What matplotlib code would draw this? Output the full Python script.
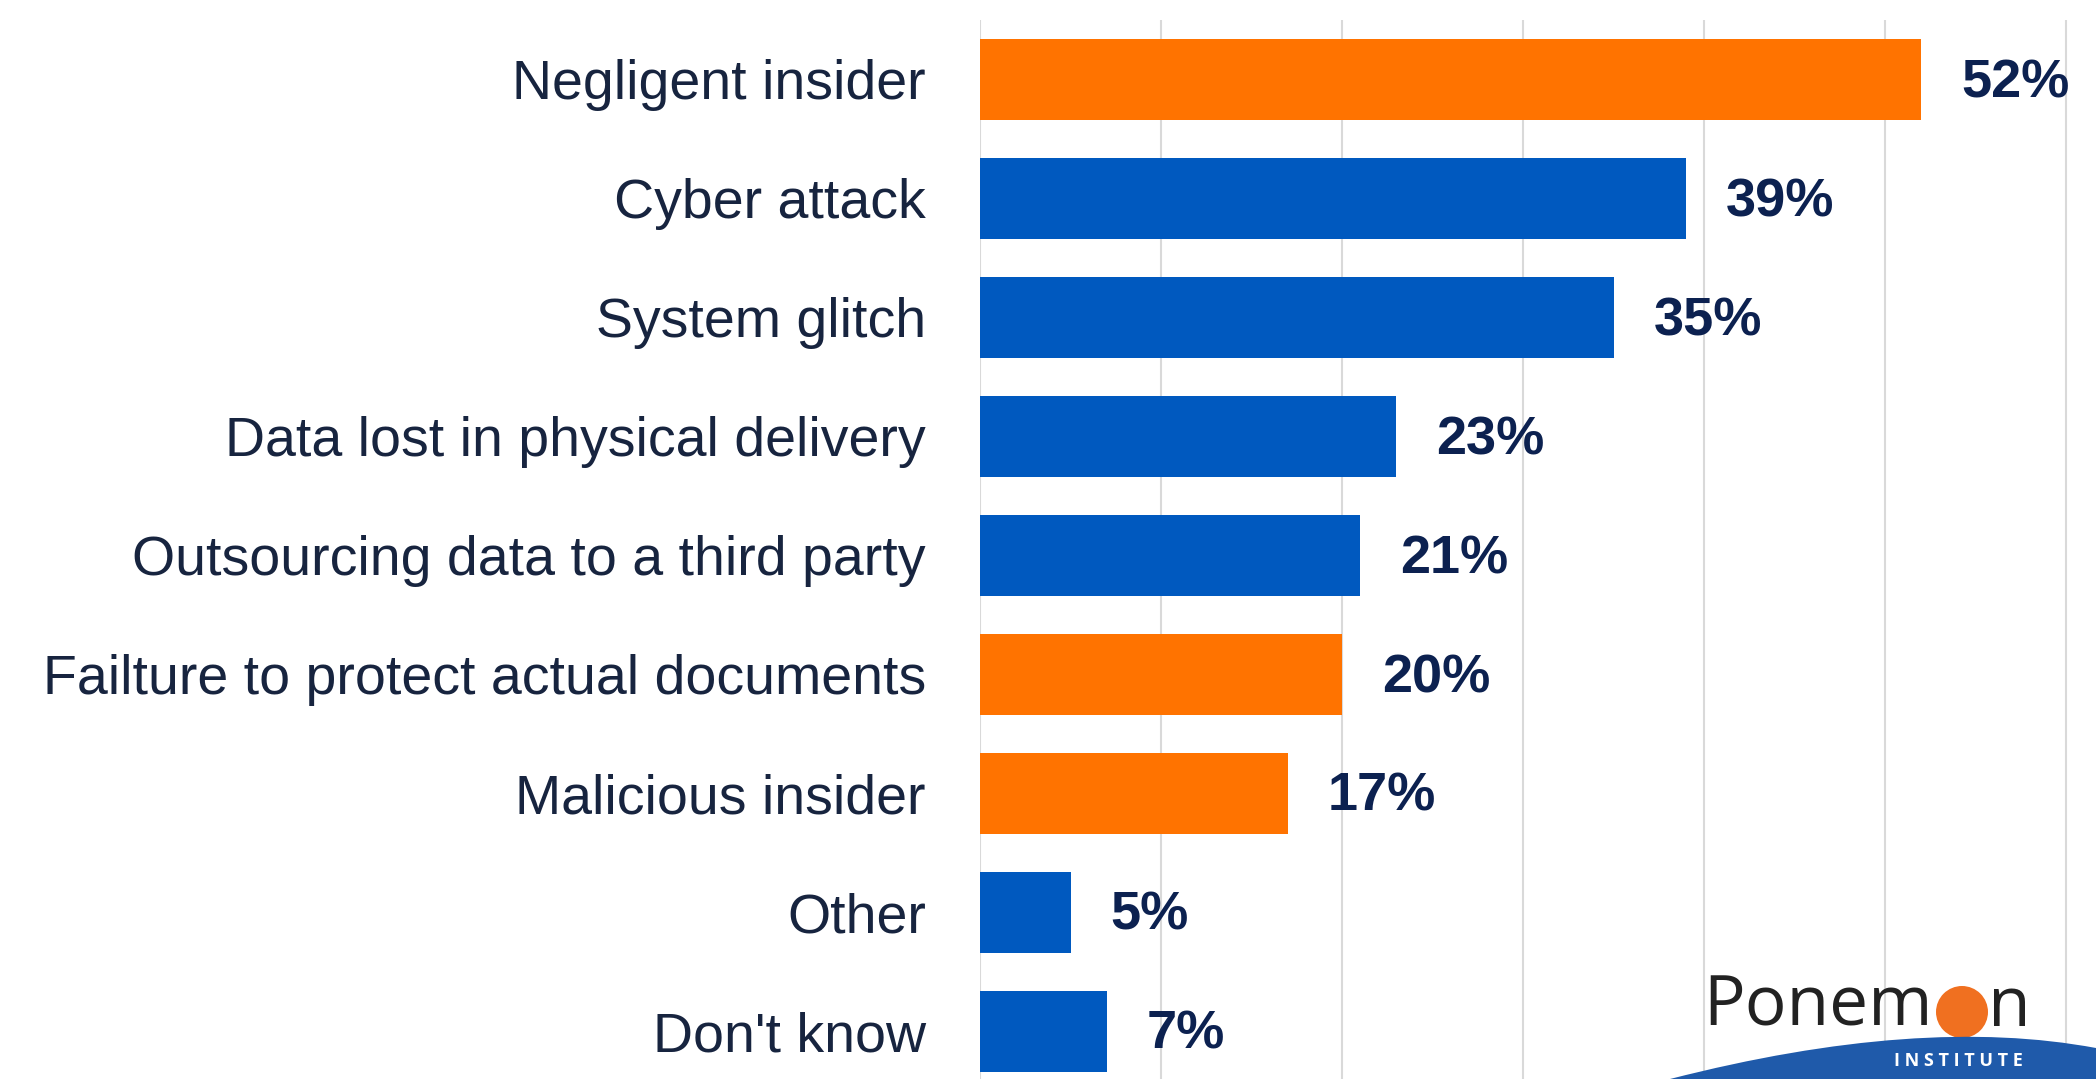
import matplotlib
matplotlib.use("Agg")
import matplotlib.pyplot as plt
from matplotlib.patches import Ellipse, PathPatch
from matplotlib.path import Path

categories = [
    "Negligent insider",
    "Cyber attack",
    "System glitch",
    "Data lost in physical delivery",
    "Outsourcing data to a third party",
    "Failture to protect actual documents",
    "Malicious insider",
    "Other",
    "Don't know",
]
values = [52, 39, 35, 23, 21, 20, 17, 5, 7]
is_insider = [True, False, False, False, False, True, True, False, False]

ORANGE = "#ff7300"
BLUE = "#0059bf"
NAVY = "#17243f"
VALUE_NAVY = "#0c2150"

W, H = 2096, 1079
fig = plt.figure(figsize=(W / 100, H / 100), dpi=100)
ax = fig.add_axes([980 / W, 0, 1 - 980 / W, 1 - 20 / H])

colors = [ORANGE if f else BLUE for f in is_insider]
ypos = list(range(len(categories)))
ax.barh(ypos, values, height=0.685, color=colors, zorder=3)

for y, v in zip(ypos, values):
    ax.text(v + 2.2, y + 0.03, f"{v}%", va="center", ha="left",
            fontsize=39, fontweight="bold", color=VALUE_NAVY,
            family=["Liberation Sans Narrow", "Liberation Sans"])

ax.set_xlim(0, 61.65)
ax.set_ylim(8.4, -0.5)
ax.set_xticks(range(0, 61, 10))
ax.xaxis.grid(True, color="#d9d9d9", linewidth=1.5, zorder=0)
ax.tick_params(axis="x", bottom=False, labelbottom=False)
ax.set_yticks(ypos)
ax.set_yticklabels(categories, fontsize=40, color=NAVY, family="Liberation Sans")
ax.tick_params(axis="y", length=0, pad=39)
for s in ax.spines.values():
    s.set_visible(False)


def px(x, y):
    return (x / W, 1 - y / H)


# logo in the lower right corner
swoosh = Path(
    [px(1670, 1079), px(1920, 1015), px(2096, 1048), px(2096, 1079), px(1670, 1079)],
    [Path.MOVETO, Path.CURVE3, Path.CURVE3, Path.LINETO, Path.CLOSEPOLY],
)
fig.patches.append(PathPatch(swoosh, transform=fig.transFigure,
                             facecolor="#1f5aaa", edgecolor="none", zorder=5))
fig.text(*px(1703, 1026), "Ponem", fontsize=50, family="Open Sans",
         color="#222222", va="baseline", ha="left", zorder=6)
fig.text(*px(1988, 1026), "n", fontsize=50, family="Open Sans",
         color="#222222", va="baseline", ha="left", zorder=6)
fig.patches.append(Ellipse(px(1962, 1012), 52 / W, 52 / H, transform=fig.transFigure,
                           facecolor="#f07020", edgecolor="none", zorder=4))
fig.text(*px(1958, 1061), "I N S T I T U T E", fontsize=13, fontweight="bold",
         family="Open Sans", color="white", va="center", ha="center", zorder=6)

fig.savefig("out.png", dpi=100)
